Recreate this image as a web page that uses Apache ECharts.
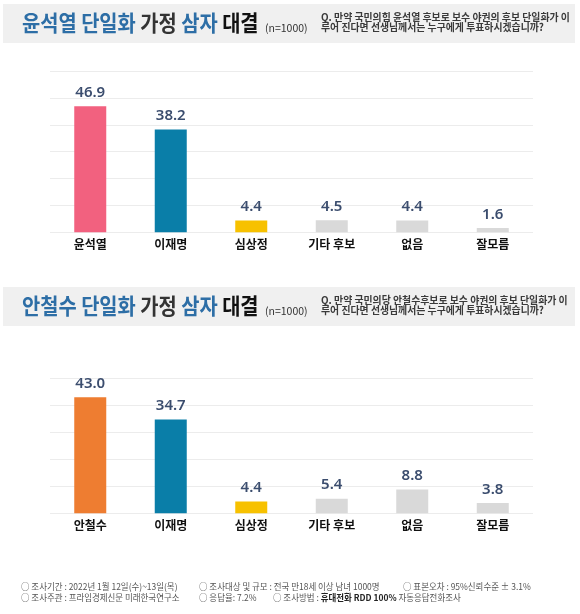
<!DOCTYPE html>
<html>
<head>
<meta charset="utf-8">
<script src="https://cdn.jsdelivr.net/npm/echarts@6/dist/echarts.min.js"></script>
<style>
html,body{margin:0;padding:0;background:#fff;}
#c{width:580px;height:614px;}
</style>
</head>
<body>
<div id="c"></div>
<script>
// ---- data ----
const categories1 = ['윤석열', '이재명', '심상정', '기타 후보', '없음', '잘모름'];
const values1 = [46.9, 38.2, 4.4, 4.5, 4.4, 1.6];
const categories2 = ['안철수', '이재명', '심상정', '기타 후보', '없음', '잘모름'];
const values2 = [43.0, 34.7, 4.4, 5.4, 8.8, 3.8];
const title1 = ['윤석열 단일화', '가정', '삼자', '대결'];
const title2 = ['안철수 단일화', '가정', '삼자', '대결'];
const sampleNote = '(n=1000)';
const question1 = ['Q. 만약 국민의힘 윤석열 후보로 보수 야권의 후보 단일화가 이', '루어 진다면 선생님께서는 누구에게 투표하시겠습니까?'];
const question2 = ['Q. 만약 국민의당 안철수후보로 보수 야권의 후보 단일화가 이', '루어 진다면 선생님께서는 누구에게 투표하시겠습니까?'];
const footRow1 = ['○ 조사기간 : 2022년 1월 12일(수)~13일(목)', '○ 조사대상 및 규모 : 전국 만18세 이상 남녀 1000명', '○ 표본오차 : 95%신뢰수준 ± 3.1%'];
const footRow2a = '○ 조사주관 : 프라임경제신문 미래한국연구소';
const footRow2b = '○ 응답율: 7.2%';
const footRow2c = ['○ 조사방법 : ', '휴대전화 RDD 100%', ' 자동응답전화조사'];

// ---- style ----
const colors1 = ['#f2617f', '#0a7ea8', '#f7c100', '#d9d9d9', '#d9d9d9', '#d9d9d9'];
const colors2 = ['#ee7d31', '#0a7ea8', '#f7c100', '#d9d9d9', '#d9d9d9', '#d9d9d9'];
const CJK = '"Noto Sans CJK KR", "Noto Sans", sans-serif';

function header(t, q, bandTop) {
  const titleY = bandTop + 19;
  const rich = {
    b: { fontFamily: CJK, fontSize: 22, fontWeight: 'bold', fill: '#2d6ea6' },
    d: { fontFamily: CJK, fontSize: 22, fontWeight: 'bold', fill: '#333333' },
    k: { fontFamily: CJK, fontSize: 22, fontWeight: 'bold', fill: '#111111' }
  };
  return [
    { type: 'rect', shape: { x: 3, y: bandTop, width: 572, height: 39 }, style: { fill: '#f0f0f0' }, silent: true },
    { type: 'text', x: 22, y: titleY, scaleX: 0.9, style: {
        text: '{b|' + t[0] + '} {d|' + t[1] + '} {b|' + t[2] + '} {k|' + t[3] + '}',
        rich: rich, x: 0, y: 0, verticalAlign: 'middle', align: 'left', font: 'bold 22px ' + CJK } },
    { type: 'text', x: 265, y: titleY + 5, style: { text: sampleNote, x: 0, y: 0, verticalAlign: 'middle',
        font: '10.5px ' + CJK, fill: '#333' } },
    { type: 'text', x: 321, y: bandTop + 13, scaleX: 0.94, style: { text: q[0], x: 0, y: 0, verticalAlign: 'middle',
        font: 'bold 10.5px ' + CJK, fill: '#3a3a3a' } },
    { type: 'text', x: 321, y: bandTop + 23.5, scaleX: 0.94, style: { text: q[1], x: 0, y: 0, verticalAlign: 'middle',
        font: 'bold 10.5px ' + CJK, fill: '#3a3a3a' } }
  ];
}

const footFont = '9px ' + CJK;
const FS = 0.94;
const foot = [
  { type: 'text', x: 21, y: 587, scaleX: FS, style: { text: footRow1[0], x: 0, y: 0, verticalAlign: 'middle', font: footFont, fill: '#555' } },
  { type: 'text', x: 199, y: 587, scaleX: FS, style: { text: footRow1[1], x: 0, y: 0, verticalAlign: 'middle', font: footFont, fill: '#555' } },
  { type: 'text', x: 403, y: 587, scaleX: FS, style: { text: footRow1[2], x: 0, y: 0, verticalAlign: 'middle', font: footFont, fill: '#555' } },
  { type: 'text', x: 21, y: 597.5, scaleX: FS, style: { text: footRow2a, x: 0, y: 0, verticalAlign: 'middle', font: footFont, fill: '#555' } },
  { type: 'text', x: 199, y: 597.5, scaleX: FS, style: { text: footRow2b, x: 0, y: 0, verticalAlign: 'middle', font: footFont, fill: '#555' } },
  { type: 'text', x: 273, y: 597.5, scaleX: FS, style: {
      text: '{n|' + footRow2c[0] + '}{s|' + footRow2c[1] + '}{n|' + footRow2c[2] + '}',
      rich: {
        n: { fontFamily: CJK, fontSize: 9, fill: '#555' },
        s: { fontFamily: CJK, fontSize: 9, fontWeight: 'bold', fill: '#222' }
      },
      x: 0, y: 0, verticalAlign: 'middle', font: footFont } }
];

function xAxisFor(idx, cats) {
  return {
    type: 'category', gridIndex: idx, data: cats,
    axisLine: { show: false }, axisTick: { show: false },
    axisLabel: { margin: 6, fontFamily: CJK, fontSize: 12, fontWeight: 'bold', color: '#111' }
  };
}
function yAxisFor(idx, max) {
  return {
    type: 'value', gridIndex: idx, min: 0, max: max, interval: 10,
    axisLabel: { show: false }, axisLine: { show: false }, axisTick: { show: false },
    splitLine: { lineStyle: { color: '#ececec', width: 1 } }
  };
}
function barSeries(idx, vals, cols) {
  return {
    type: 'bar', xAxisIndex: idx, yAxisIndex: idx, barWidth: 32,
    data: vals.map((v, i) => ({ value: v, itemStyle: { color: cols[i] } })),
    label: {
      show: true, position: 'top', distance: 6,
      fontFamily: '"Noto Sans", sans-serif', fontSize: 15, fontWeight: 600, color: '#3b4d6e',
      formatter: p => Number(p.value).toFixed(1)
    },
    silent: true, animation: false
  };
}

const chart = echarts.init(document.getElementById('c'), null, { renderer: 'canvas' });
chart.setOption({
  backgroundColor: '#ffffff',
  animation: false,
  grid: [
    { left: 50, width: 483, top: 71, height: 161.3 },
    { left: 50, width: 483, top: 378.3, height: 135 }
  ],
  xAxis: [xAxisFor(0, categories1), xAxisFor(1, categories2)],
  yAxis: [yAxisFor(0, 60), yAxisFor(1, 50)],
  series: [barSeries(0, values1, colors1), barSeries(1, values2, colors2)],
  graphic: [].concat(header(title1, question1, 4), header(title2, question2, 287), foot)
});
</script>
</body>
</html>
